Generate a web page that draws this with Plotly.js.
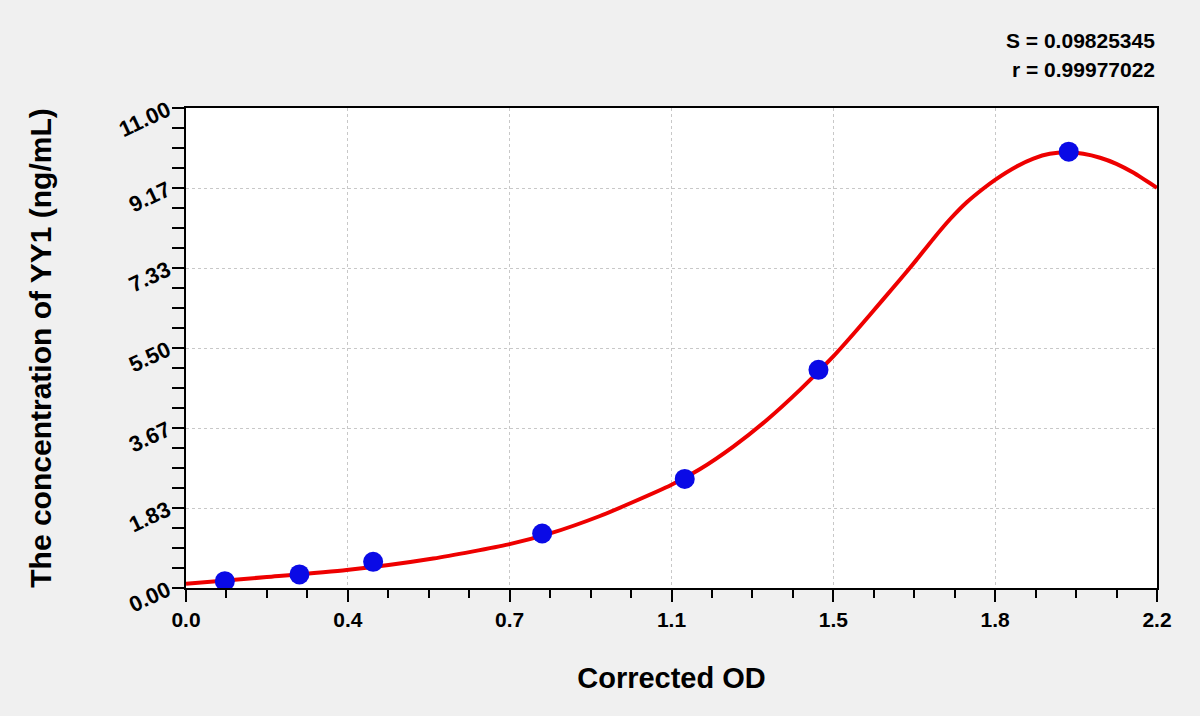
<!DOCTYPE html>
<html>
<head>
<meta charset="utf-8">
<script src="https://cdn.plot.ly/plotly-3.0.1.min.js"></script>
<style>
  html, body { margin: 0; padding: 0; background: #f0f0f0; }
  #curve { width: 1200px; height: 716px; }
</style>
</head>
<body>
<div id="curve"></div>
<script>
// standards (corrected OD vs concentration)
var stdOD = [0.088, 0.257, 0.424, 0.807, 1.130, 1.433, 2.000];
var stdConc = [0.156, 0.312, 0.6, 1.25, 2.5, 5.0, 10.0];

// fitted curve
var fitOD = [0, 0.183, 0.364, 0.56, 0.731, 0.825, 0.938, 1.013, 1.099, 1.164, 1.240, 1.316, 1.391, 1.466, 1.519, 1.580, 1.618, 1.655, 1.693, 1.731, 1.769, 1.806, 1.834, 1.882, 1.920, 1.957, 1.999, 2.033, 2.071, 2.108, 2.146, 2.2];
var fitConc = [0.10, 0.25, 0.41, 0.675, 1.0, 1.25, 1.65, 1.97, 2.36, 2.72, 3.24, 3.85, 4.54, 5.30, 5.90, 6.62, 7.07, 7.52, 8.0, 8.45, 8.84, 9.15, 9.36, 9.66, 9.84, 9.95, 9.98, 9.95, 9.86, 9.72, 9.52, 9.17];

var xTicks = [0, 0.3667, 0.7333, 1.1, 1.4667, 1.8333, 2.2];
var xLabels = ['0.0', '0.4', '0.7', '1.1', '1.5', '1.8', '2.2'];
var yTicks = [0, 1.8333, 3.6667, 5.5, 7.3333, 9.1667, 11];
var yLabels = ['0.00', '1.83', '3.67', '5.50', '7.33', '9.17', '11.00'];

var fitText = ['S = 0.09825345', 'r = 0.99977022'];

var font = 'Arial, "Liberation Sans", sans-serif';

var fit = {
    x: fitOD,
    y: fitConc,
    type: 'scatter',
    mode: 'lines',
    line: {color: '#ee0000', width: 4, shape: 'spline', smoothing: 0.6},
    hoverinfo: 'skip'
};

var points = {
    x: stdOD,
    y: stdConc,
    type: 'scatter',
    mode: 'markers',
    marker: {color: '#0a0ae6', size: 20}
};

var axisBase = {
    showline: true,
    linecolor: 'black',
    linewidth: 2,
    mirror: true,
    ticks: 'outside',
    ticklen: 12,
    tickwidth: 2,
    tickcolor: 'black',
    showgrid: true,
    gridcolor: '#c8c8c8',
    griddash: 'dot',
    gridwidth: 1,
    zeroline: false,
    tickmode: 'array',
    tickfont: {family: font, size: 20, color: 'black', weight: 'bold'}
};

var layout = {
    width: 1200,
    height: 716,
    paper_bgcolor: '#f0f0f0',
    plot_bgcolor: 'white',
    showlegend: false,
    margin: {l: 186, r: 43, t: 108, b: 128},
    xaxis: Object.assign({}, axisBase, {
        range: [0, 2.2],
        tickvals: xTicks,
        ticktext: xLabels,
        tickfont: {family: font, size: 21, color: 'black', weight: 'bold'},
        minor: {tickmode: 'linear', tick0: 0, dtick: 2.2 / 24, ticks: 'outside', ticklen: 8, tickwidth: 2, tickcolor: 'black', showgrid: false},
        title: {text: 'Corrected OD', standoff: 37, font: {family: font, size: 29, color: 'black', weight: 'bold'}}
    }),
    yaxis: Object.assign({}, axisBase, {
        range: [0, 11],
        tickvals: yTicks,
        ticktext: yLabels,
        tickangle: -25,
        tickfont: {family: font, size: 22, color: 'black', weight: 'bold'},
        minor: {tickmode: 'linear', tick0: 0, dtick: 11 / 24, ticks: 'outside', ticklen: 12, tickwidth: 2, tickcolor: 'black', showgrid: false},
        title: {text: 'The concentration of YY1 (ng/mL)', standoff: 54, font: {family: font, size: 30, color: 'black', weight: 'bold'}}
    }),
    annotations: [
        {text: fitText[0], xref: 'paper', yref: 'paper', x: 1, y: 1, xanchor: 'right', yanchor: 'middle', yshift: 68, showarrow: false,
         font: {family: font, size: 21, color: 'black', weight: 'bold'}},
        {text: fitText[1], xref: 'paper', yref: 'paper', x: 1, y: 1, xanchor: 'right', yanchor: 'middle', yshift: 39, showarrow: false,
         font: {family: font, size: 21, color: 'black', weight: 'bold'}}
    ]
};

Plotly.newPlot('curve', [fit, points], layout, {staticPlot: true});
</script>
</body>
</html>
